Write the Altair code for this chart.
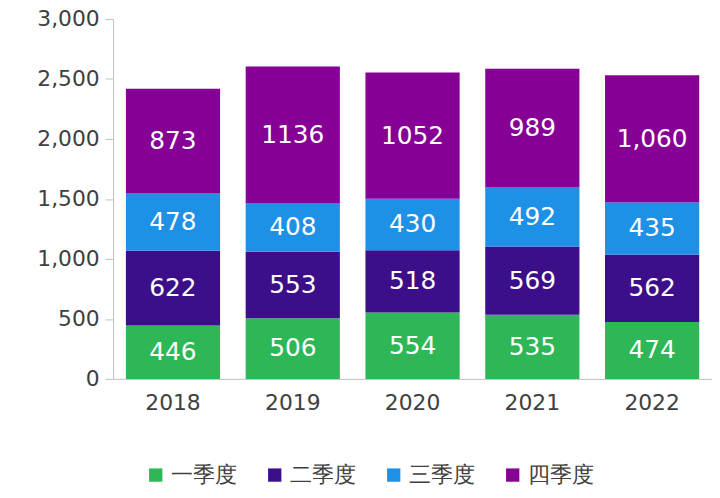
import altair as alt
import pandas as pd

years = ["2018", "2019", "2020", "2021", "2022"]
quarters = ["一季度", "二季度", "三季度", "四季度"]
colors = ["#2db757", "#3d0e8a", "#1e90e6", "#860096"]
values = {
    "一季度": [446, 506, 554, 535, 474],
    "二季度": [622, 553, 518, 569, 562],
    "三季度": [478, 408, 430, 492, 435],
    "四季度": [873, 1136, 1052, 989, 1060],
}
labels = {
    "四季度": ["873", "1136", "1052", "989", "1,060"],
}

rows = []
for i, y in enumerate(years):
    base = 0
    for k, q in enumerate(quarters):
        v = values[q][i]
        lab = labels.get(q, [str(x) for x in values[q]])[i]
        rows.append({"year": y, "q": q, "k": k, "v": v, "lo": base, "hi": base + v,
                     "mid": base + v / 2, "lab": lab})
        base += v
df = pd.DataFrame(rows)

font = "DejaVu Sans"
bars = alt.Chart(df).mark_bar(size=95).encode(
    x=alt.X("year:N", title=None,
            axis=alt.Axis(labelAngle=0, labelFontSize=22, labelColor="#404040", labelPadding=14,
                          domainColor="#bfbfbf", ticks=False, labelFont=font)),
    y=alt.Y("lo:Q", title=None, scale=alt.Scale(domain=[0, 3000]),
            axis=alt.Axis(values=[0, 500, 1000, 1500, 2000, 2500, 3000], format=",.0f",
                          grid=False, labelFontSize=22, labelColor="#404040", labelFont=font,
                          domainColor="#bfbfbf", tickColor="#bfbfbf", tickSize=8, labelPadding=6)),
    y2="hi:Q",
    color=alt.Color("q:N", sort=quarters, title=None,
                    scale=alt.Scale(domain=quarters, range=colors),
                    legend=alt.Legend(orient="none", direction="horizontal", legendX=32, legendY=449,
                                      symbolType="square", symbolSize=180, labelFontSize=22,
                                      labelColor="#404040", labelFont=font, columnPadding=28,
                                      symbolStrokeWidth=0)),
)
text = alt.Chart(df).mark_text(color="white", fontSize=25, font=font).encode(
    x="year:N", y="mid:Q", text="lab:N"
)

chart = (bars + text).properties(
    width=604, height=363,
    autosize=alt.AutoSizeParams(type="none"),
    padding={"left": 106, "top": 9, "right": 0, "bottom": 110},
).configure_view(stroke=None)

chart.save("out.html", embed_options={"renderer": "svg", "actions": False})
